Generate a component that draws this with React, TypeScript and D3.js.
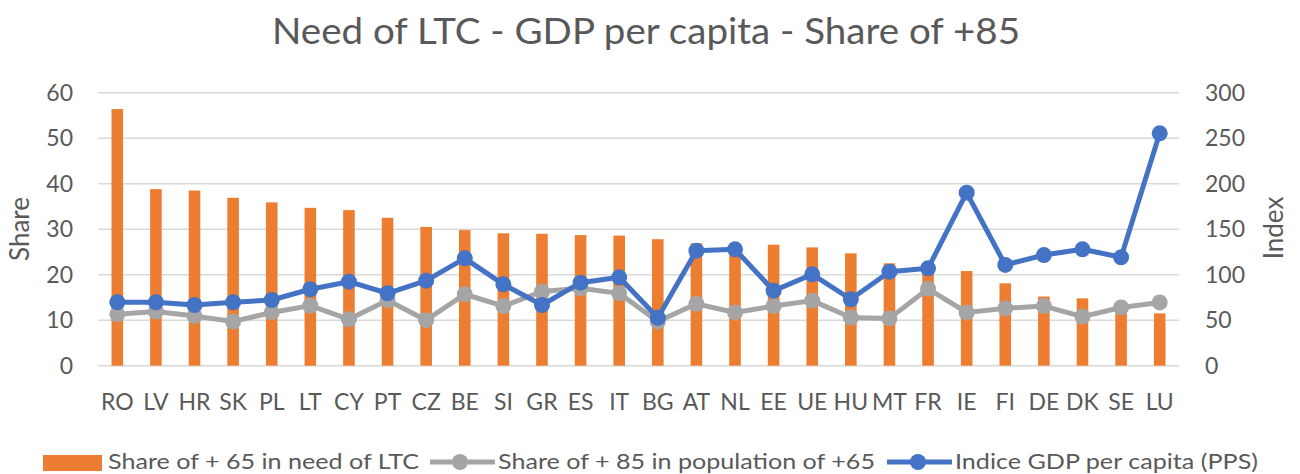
import * as d3 from "d3";

const countries = ["RO", "LV", "HR", "SK", "PL", "LT", "CY", "PT", "CZ", "BE", "SI", "GR", "ES", "IT", "BG", "AT", "NL", "EE", "UE", "HU", "MT", "FR", "IE", "FI", "DE", "DK", "SE", "LU"];
const needLTC = [56.4, 38.8, 38.5, 36.9, 35.9, 34.7, 34.2, 32.5, 30.5, 29.8, 29.1, 29.0, 28.7, 28.6, 27.8, 26.9, 26.8, 26.6, 26.0, 24.7, 22.5, 21.5, 20.8, 18.1, 15.2, 14.8, 13.5, 11.5];
const share85 = [11.3, 11.9, 10.9, 9.7, 11.7, 13.2, 10.2, 14.4, 10.0, 15.7, 13.1, 16.3, 17.0, 15.9, 9.7, 13.6, 11.7, 13.1, 14.3, 10.6, 10.4, 16.9, 11.7, 12.6, 13.1, 10.8, 12.8, 13.9];
const gdpIndex = [69.7, 69.7, 66.7, 69.7, 72.2, 84, 92.3, 79.6, 93.4, 118, 89.4, 66.7, 91.2, 97.1, 52.7, 126.4, 127.9, 82.4, 100.4, 73, 103.3, 107, 190.1, 110.7, 121.6, 127.9, 119.1, 255.4];
const leftTicks = [0, 10, 20, 30, 40, 50, 60];
const rightTicks = [0, 50, 100, 150, 200, 250, 300];

const W = 1300;
const H = 474;
const FONT = "Lato, 'Open Sans', sans-serif";
const TEXT = "#595959";
const ORANGE = "#ED7D31";
const GRAY = "#A5A5A5";
const BLUE = "#4472C4";

export default function App() {
  const x = d3.scaleBand<string>().domain(countries).range([98, 1179]).paddingInner(0.7).paddingOuter(0.35);
  const yL = d3.scaleLinear().domain([0, 60]).range([365.7, 92.7]);
  const yR = d3.scaleLinear().domain([0, 300]).range([365.7, 92.7]);
  const cx = (c: string) => (x(c) as number) + x.bandwidth() / 2;

  const grayLine = d3.line<number>().x((_, i) => cx(countries[i])).y((d) => yL(d));
  const blueLine = d3.line<number>().x((_, i) => cx(countries[i])).y((d) => yR(d));

  return (
    <svg width={W} height={H} style={{ position: "absolute", left: 0, top: 0, background: "#fff" }} fontFamily={FONT}>
      <text x={272} y={44} fontSize={37} fill={TEXT} textLength={748} lengthAdjust="spacingAndGlyphs">
        Need of LTC - GDP per capita - Share of +85
      </text>

      {leftTicks.map((t) => (
        <g key={t}>
          <line x1={98} x2={1179} y1={yL(t)} y2={yL(t)} stroke="#D9D9D9" strokeWidth={1.5} />
          <text x={73} y={yL(t) + 8} textAnchor="end" fontSize={23} fill={TEXT}>{t}</text>
        </g>
      ))}
      {rightTicks.map((t) => (
        <text key={t} x={1205} y={yR(t) + 8} textAnchor="start" fontSize={23} fill={TEXT}>{t}</text>
      ))}

      <text transform="translate(29,229) rotate(-90)" textAnchor="middle" fontSize={26} fill={TEXT}>Share</text>
      <text transform="translate(1283,228) rotate(-90)" textAnchor="middle" fontSize={26} fill={TEXT}>Index</text>

      {countries.map((c, i) => (
        <rect key={c} x={x(c)} y={yL(needLTC[i])} width={x.bandwidth()} height={yL(0) - yL(needLTC[i])} fill={ORANGE} />
      ))}

      <path d={grayLine(share85) ?? ""} fill="none" stroke={GRAY} strokeWidth={5} strokeLinejoin="round" />
      {share85.map((v, i) => (
        <circle key={i} cx={cx(countries[i])} cy={yL(v)} r={8} fill={GRAY} />
      ))}
      <path d={blueLine(gdpIndex) ?? ""} fill="none" stroke={BLUE} strokeWidth={5} strokeLinejoin="round" />
      {gdpIndex.map((v, i) => (
        <circle key={i} cx={cx(countries[i])} cy={yR(v)} r={8} fill={BLUE} />
      ))}

      {countries.map((c) => (
        <text key={c} x={cx(c)} y={410} textAnchor="middle" fontSize={23} fill={TEXT}>{c}</text>
      ))}

      <g fontSize={22} fill={TEXT}>
        <rect x={43} y={455} width={59} height={16} fill={ORANGE} />
        <text x={108} y={469} textLength={311} lengthAdjust="spacingAndGlyphs">Share of + 65 in need of LTC</text>
        <line x1={430} x2={495} y1={462} y2={462} stroke={GRAY} strokeWidth={5} />
        <circle cx={460} cy={462} r={8} fill={GRAY} />
        <text x={498} y={469} textLength={377} lengthAdjust="spacingAndGlyphs">Share of + 85 in population of +65</text>
        <line x1={887} x2={952} y1={462} y2={462} stroke={BLUE} strokeWidth={5} />
        <circle cx={918} cy={462} r={8} fill={BLUE} />
        <text x={955} y={469} textLength={303} lengthAdjust="spacingAndGlyphs">Indice GDP per capita (PPS)</text>
      </g>
    </svg>
  );
}
